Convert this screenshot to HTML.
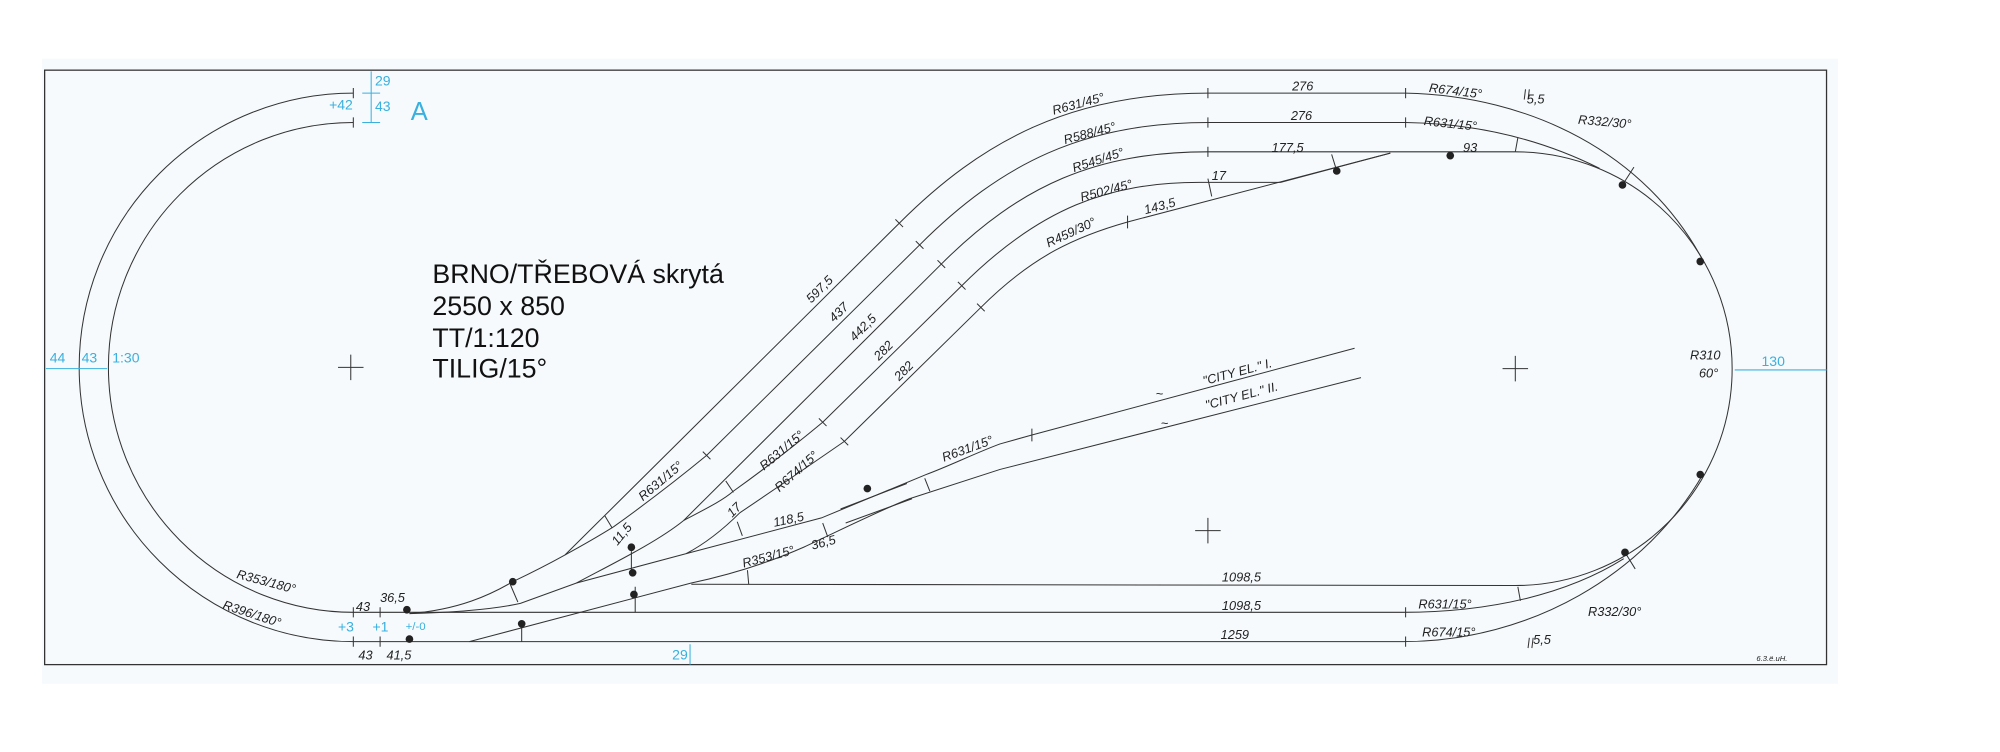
<!DOCTYPE html>
<html><head><meta charset="utf-8"><style>
html,body{margin:0;padding:0;background:#fff;}
svg{display:block}
text{font-family:"Liberation Sans",sans-serif;}
.h{font-style:italic;font-size:10px;fill:#222;}
.b{font-size:11px;fill:#3ab0de;}
</style></head><body>
<svg width="2000" height="752" viewBox="0 0 1568 589.5" preserveAspectRatio="none" xmlns="http://www.w3.org/2000/svg">
<rect x="0" y="0" width="1568" height="590" fill="#fff"/>
<rect x="33" y="46" width="1408" height="490" fill="#f6fafd"/>
<rect x="35" y="55" width="1397" height="466" fill="none" stroke="#333" stroke-width="1"/>
<g fill="none" stroke="#333" stroke-width="0.8">
<path d="M277,73 A215,215 0 0 0 277,503 L1100,503 C1200,503 1290,450 1335,372"/>
<path d="M277,96 A192,192 0 0 0 277,480 L1100,480 C1170,480 1230,465 1273,438"/>
<path d="M1188,119 A170,170 0 0 1 1188,459 L542,458"/>
<path d="M947,73 L1102,73 C1200,75 1290,120 1335,204"/>
<path d="M947,96 L1102,96 C1170,97 1220,115 1254,132"/>
<path d="M947,119 L1188,119"/>
<path d="M443,435 L705,175 C770,110 840,73 947,73"/>
<path d="M321,481 C360,478 385,466 402,456 Q425,445 443,435 Q465,423 481,413 Q520,385 554,357 L721,192 C785,128 850,96 947,96"/>
<path d="M452,457 C480,442 515,425 536,408 L738,207 C800,145 860,119 947,119"/>
<path d="M536,408 C555,398 567,392 575,385 Q610,360 645,331 L754,224 C815,163 870,143 940,143 L1004,143 L1090,120"/>
<path d="M538,434 C555,425 570,412 580,402 Q620,375 662,346 L769,241 C810,200 845,185 884,174 L1090,120"/>
<path d="M321,481 C360,480 390,477 408,473 L452,457 L538,434 L644,406 L726,372 C745,365 765,355 784,348 L809,341 L1062,273"/>
<path d="M368,503 L542,457 C575,450 605,440 630,429 C660,415 690,400 713,391 L784,368 L1067,296"/>
<path d="M659,399 L711,379 M663,410 L715,391"/>
</g>
<g stroke="#333" stroke-width="0.8">
<path d="M277,69v8M277,92v8M277,476v8M277,499v8M298,476v8M298,499v8M947,69v8M947,92v8M947,115v8M1102,69v8M1102,92v8M1102,476v8M1102,499v8"/>
<path d="M474,404l6,10M569,377l6,9M578,409l4,11M947,140l3,14M1190,108l-2,11M1190,460l2,11M586,447l1,11M725,375l4,10M498,460v20M409,490v13M400,458l6,14M495,432v17M1048,134l-4,-13M1272,145l9,-14M1274,433l8,13M645,410l4,11"/>
<path d="M1196,70l-1,8M1199,70l-1,8M1199,500l-1,8M1202,500l-1,8"/>
<path d="M551,354l6,6M642,328l6,6M659,343l6,6M702,172l6,6M718,189l6,6M735,204l6,6M751,221l6,6M766,238l6,6M809,336v10M884,169v10"/>
</g>
<g fill="#222">
<circle cx="402" cy="456" r="3"/><circle cx="319" cy="478" r="3"/><circle cx="321" cy="501" r="3"/>
<circle cx="495" cy="429" r="3"/><circle cx="496" cy="449" r="3"/><circle cx="497" cy="466" r="3"/>
<circle cx="409" cy="489" r="3"/><circle cx="680" cy="383" r="3"/><circle cx="1048" cy="134" r="3"/>
<circle cx="1137" cy="122" r="3"/><circle cx="1272" cy="145" r="3"/><circle cx="1333" cy="205" r="3"/>
<circle cx="1333" cy="372" r="3"/><circle cx="1274" cy="433" r="3"/>
</g>
<g stroke="#333" stroke-width="0.8">
<path d="M265,288h20M275,278v20M1178,289h20M1188,279v20M937,416h20M947,406v20"/>
</g>
<g stroke="#3ab0de" stroke-width="0.8">
<path d="M36,289h48M291,56v40M284,73h14M284,96h14M1360,290h72M541,505v16"/>
</g>
<text x="339" y="222" font-size="21" fill="#111">BRNO/TŘEBOVÁ skrytá</text>
<text x="339" y="247" font-size="21" fill="#111">2550 x 850</text>
<text x="339" y="272" font-size="21" fill="#111">TT/1:120</text>
<text x="339" y="296" font-size="21" fill="#111">TILIG/15°</text>
<g class="b">
<text x="39" y="284">44</text><text x="64" y="284">43</text><text x="88" y="284">1:30</text>
<text x="294" y="67">29</text><text x="258" y="86">+42</text><text x="294" y="87">43</text>
<text x="322" y="94" font-size="20">A</text><text x="1381" y="287">130</text>
<text x="265" y="495">+3</text><text x="292" y="495">+1</text><text x="318" y="494" font-size="9">+/-0</text>
<text x="527" y="517">29</text>
</g>
<g class="h">
<text transform="translate(826,90) rotate(-15)">R631/45°</text>
<text x="1013" y="71">276</text>
<text transform="translate(1120,72) rotate(7)">R674/15°</text>
<text x="1197" y="81">5,5</text>
<text transform="translate(1237,97) rotate(5)">R332/30°</text>
<text transform="translate(835,113) rotate(-15)">R588/45°</text>
<text x="1012" y="94">276</text>
<text transform="translate(1116,98) rotate(6)">R631/15°</text>
<text transform="translate(842,135) rotate(-18)">R545/45°</text>
<text x="997" y="119">177,5</text>
<text x="1147" y="119">93</text>
<text transform="translate(848,158) rotate(-15)">R502/45°</text>
<text x="950" y="141">17</text>
<text transform="translate(822,194) rotate(-25)">R459/30°</text>
<text transform="translate(898,168) rotate(-15)">143,5</text>
<text transform="translate(636,238) rotate(-45)">597,5</text>
<text transform="translate(654,253) rotate(-45)">437</text>
<text transform="translate(670,268) rotate(-45)">442,5</text>
<text transform="translate(689,283) rotate(-45)">282</text>
<text transform="translate(705,299) rotate(-45)">282</text>
<text transform="translate(504,393) rotate(-40)">R631/15°</text>
<text transform="translate(599,369) rotate(-40)">R631/15°</text>
<text transform="translate(611,386) rotate(-42)">R674/15°</text>
<text transform="translate(740,362) rotate(-20)">R631/15°</text>
<text transform="translate(574,406) rotate(-45)">17</text>
<text transform="translate(607,413) rotate(-12)">118,5</text>
<text transform="translate(484,428) rotate(-50)">11,5</text>
<text transform="translate(583,445) rotate(-15)">R353/15°</text>
<text transform="translate(637,431) rotate(-15)">36,5</text>
<text x="906" y="312">~</text>
<text transform="translate(944,302) rotate(-15)">"CITY EL." I.</text>
<text x="910" y="335">~</text>
<text transform="translate(946,321) rotate(-15)">"CITY EL." II.</text>
<text transform="translate(185,453) rotate(15)">R353/180°</text>
<text transform="translate(174,477) rotate(18)">R396/180°</text>
<text x="279" y="479">43</text><text x="298" y="472">36,5</text>
<text x="281" y="517">43</text><text x="303" y="517">41,5</text>
<text x="1325" y="282">R310</text><text x="1332" y="296">60°</text>
<text x="958" y="456">1098,5</text><text x="958" y="478">1098,5</text>
<text x="1112" y="477">R631/15°</text><text x="1245" y="483">R332/30°</text>
<text x="957" y="501">1259</text><text x="1115" y="499">R674/15°</text><text x="1202" y="505">5,5</text>
<text x="1377" y="518" font-size="6">6.3.ë.uH.</text>
</g>
</svg>
</body></html>
